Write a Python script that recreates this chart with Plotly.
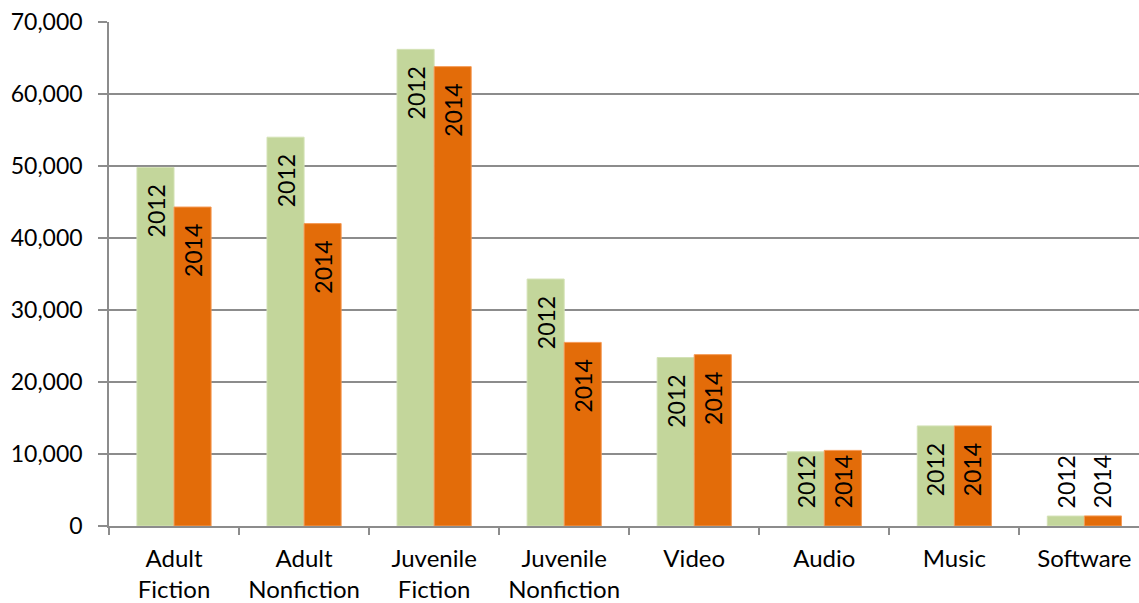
import plotly.graph_objects as go

# Circulation by collection type, 2012 vs 2014
categories = ["Adult<br>Fiction", "Adult<br>Nonfiction", "Juvenile<br>Fiction",
              "Juvenile<br>Nonfiction", "Video", "Audio", "Music", "Software"]
values_2012 = [49800, 54000, 66200, 34300, 23400, 10300, 13900, 1380]
values_2014 = [44300, 42000, 63800, 25500, 23800, 10500, 13900, 1400]
series_names = ["2012", "2014"]
y_ticks = [0, 10000, 20000, 30000, 40000, 50000, 60000, 70000]

FONT = "Lato, 'Open Sans', sans-serif"
TEXT = "#000000"
GRID = "#8c8c8c"
W, H = 1139, 603
ML, MR, MT, MB = 109, 0, 22, 77
BARGAP = 0.43
X_RANGE = [-0.5, 7.42]   # last category runs off the right edge
Y_RANGE = [0, 70000]

fig = go.Figure()
fig.add_trace(go.Bar(x=categories, y=values_2012, name=series_names[0],
                     marker=dict(color="#C3D69B", line=dict(color="#D4E2B6", width=1))))
fig.add_trace(go.Bar(x=categories, y=values_2014, name=series_names[1],
                     marker=dict(color="#E36C09", line=dict(color="#F59A55", width=1))))

# rotated series labels at the top end of each bar; kept inside short bars
# (resting near the base) and placed above bars too short to hold them
cat_w = (W - ML - MR) / (X_RANGE[1] - X_RANGE[0])
bar_w = cat_w * (1 - BARGAP) / 2
px_per_unit = (H - MT - MB) / (Y_RANGE[1] - Y_RANGE[0])
LABEL_LEN, LABEL_PAD = 50, 16
annotations = []
for vals, name, sign in [(values_2012, series_names[0], -1), (values_2014, series_names[1], 1)]:
    for cat, v in zip(categories, vals):
        bar_px = v * px_per_unit
        base = dict(x=cat, xref="x", yref="y", text=name, showarrow=False,
                    textangle=-90, xshift=sign * bar_w / 2,
                    font=dict(family=FONT, size=23, color=TEXT))
        if bar_px >= LABEL_LEN + 2 * LABEL_PAD:
            base.update(y=v, yanchor="top", yshift=-15)
        elif bar_px >= LABEL_LEN:
            base.update(y=0, yanchor="bottom", yshift=LABEL_PAD)
        else:
            base.update(y=v, yanchor="bottom", yshift=6)
        annotations.append(base)

fig.update_layout(
    width=W, height=H,
    margin=dict(l=ML, r=MR, t=MT, b=MB),
    paper_bgcolor="white", plot_bgcolor="white",
    barmode="group", bargap=BARGAP, bargroupgap=0,
    showlegend=False,
    font=dict(family=FONT, size=23, color=TEXT),
    annotations=annotations,
)
fig.update_yaxes(
    range=Y_RANGE, tickvals=y_ticks, tickformat=",",
    showgrid=True, gridcolor=GRID, gridwidth=1.5,
    showline=True, linecolor=GRID, linewidth=1.5,
    ticks="outside", ticklen=9, tickcolor=GRID, tickwidth=1.5,
    zeroline=False, ticklabelstandoff=11,
    tickfont=dict(family=FONT, size=23, color=TEXT),
)
fig.update_xaxes(
    type="category", range=X_RANGE, showgrid=False,
    showline=True, linecolor=GRID, linewidth=1.5,
    ticks="outside", tickson="boundaries", ticklen=7, tickcolor=GRID, tickwidth=1.5,
    ticklabelstandoff=10,
    tickfont=dict(family=FONT, size=24, color=TEXT),
)

fig.write_html("out.html")
